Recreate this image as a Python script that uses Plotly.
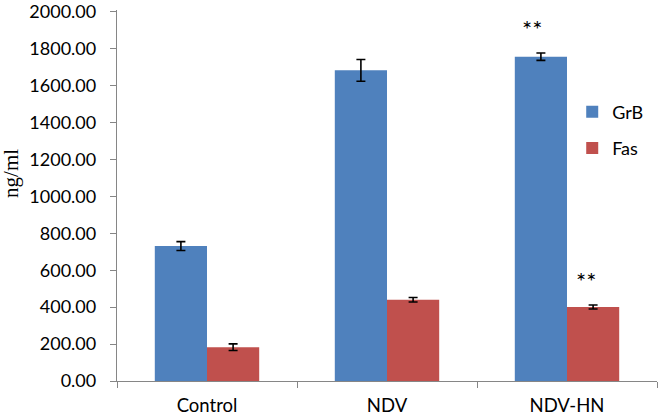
import plotly.graph_objects as go

categories = ["Control", "NDV", "NDV-HN"]
grb_values = [731, 1683, 1757]
grb_errors = [24, 59, 20]
fas_values = [183, 440, 401]
fas_errors = [18, 12, 11]
y_ticks = [0, 200, 400, 600, 800, 1000, 1200, 1400, 1600, 1800, 2000]
y_tick_labels = [f"{v:.2f}" for v in y_ticks]

FONT = "Lato"

fig = go.Figure()
fig.add_trace(go.Bar(
    name="GrB", x=categories, y=grb_values, marker_color="#4F81BD",
    marker_line_width=0, legendgroup="a",
    error_y=dict(type="data", array=grb_errors, color="black", thickness=1.6, width=4.5),
))
fig.add_trace(go.Bar(
    name="Fas", x=categories, y=fas_values, marker_color="#C0504D",
    marker_line_width=0, legendgroup="b",
    error_y=dict(type="data", array=fas_errors, color="black", thickness=1.6, width=4.5),
))

fig.add_annotation(x="NDV-HN", y=1912, text="**", showarrow=False, xshift=-35,
                   font=dict(family=FONT, size=24, color="black"))
fig.add_annotation(x="NDV-HN", y=547, text="**", showarrow=False, xshift=19,
                   font=dict(family=FONT, size=24, color="black"))
fig.add_annotation(xref="paper", yref="paper", x=-0.195, y=0.56, text="ng/ml",
                   textangle=-90, showarrow=False, xanchor="center", yanchor="middle",
                   font=dict(family="Liberation Serif", size=21, color="black"))

fig.update_layout(
    width=658, height=415,
    margin=dict(l=117, r=1, t=10, b=34, autoexpand=False),
    paper_bgcolor="white", plot_bgcolor="white",
    barmode="group", bargap=0.42, bargroupgap=0,
    font=dict(family=FONT, size=18, color="black"),
    showlegend=True,
    legend=dict(x=0.843, y=0.775, xanchor="left", yanchor="top",
                traceorder="grouped", tracegroupgap=10,
                font=dict(family=FONT, size=18, color="black"),
                bgcolor="rgba(0,0,0,0)", itemwidth=30),
)
fig.update_xaxes(
    showline=True, linecolor="#868686", linewidth=1.3,
    ticks="outside", tickson="boundaries", ticklen=6, tickcolor="#868686",
    tickfont=dict(family=FONT, size=18.5, color="black"),
    ticklabelstandoff=8,
    showgrid=False,
)
fig.update_yaxes(
    range=[0, 2010], tickvals=y_ticks, ticktext=y_tick_labels,
    showline=True, linecolor="#868686", linewidth=1.3,
    ticks="outside", ticklen=6, tickcolor="#868686",
    tickfont=dict(family=FONT, size=18, color="black"),
    ticklabelstandoff=10, ticklabeloverflow="allow",
    showgrid=False, zeroline=False,
)

fig.write_html("out.html", config={"displayModeBar": False},
               post_script="document.body.style.margin='0';")
